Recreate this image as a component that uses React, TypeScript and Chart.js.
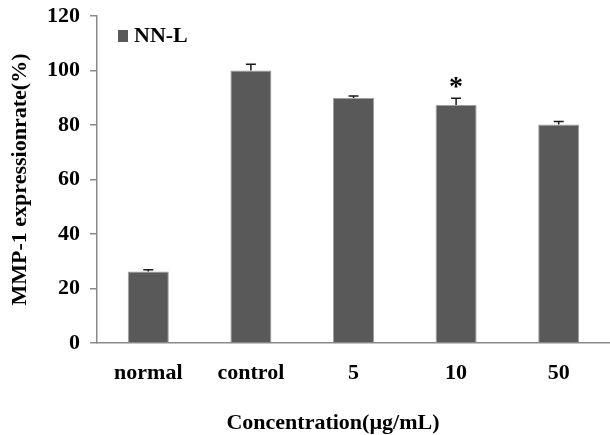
import React, { useEffect, useRef } from "react";
import { Chart, registerables } from "chart.js";

Chart.register(...registerables);

const categories = ["normal", "control", "5", "10", "50"];
const expressionRate = [26.2, 100, 89.9, 87.3, 80.2];
const errorValues = [0.7, 2.3, 0.7, 2.5, 1.1];
const significance = ["", "", "", "*", ""];
const seriesLabel = "NN-L";
const yTicks = [0, 20, 40, 60, 80, 100, 120];
const xTitle = "Concentration(\u00b5g/mL)";
const yTitle = "MMP-1 expressionrate(%)";

const FONT = '"Liberation Serif", "Times New Roman", serif';
const BAR = "#595959";
const AXIS = "#8a8a8a";

const extrasPlugin = {
  id: "barExtras",
  afterDatasetsDraw(chart: any) {
    const { ctx, chartArea, scales } = chart;
    const meta = chart.getDatasetMeta(0);
    const y = scales.y;
    ctx.save();
    // error bars (upper whisker with cap)
    ctx.strokeStyle = "#1a1a1a";
    ctx.lineWidth = 1.5;
    meta.data.forEach((bar: any, i: number) => {
      const v = expressionRate[i];
      const e = errorValues[i];
      const yv = y.getPixelForValue(v);
      const yt = y.getPixelForValue(v + e);
      ctx.beginPath();
      ctx.moveTo(bar.x, yv);
      ctx.lineTo(bar.x, yt);
      ctx.moveTo(bar.x - 5, yt);
      ctx.lineTo(bar.x + 5, yt);
      ctx.stroke();
      if (significance[i]) {
        ctx.fillStyle = "#000";
        ctx.font = `bold 28px ${FONT}`;
        ctx.textAlign = "center";
        ctx.textBaseline = "alphabetic";
        ctx.fillText(significance[i], bar.x, yt - 3);
      }
    });
    // legend inside plot
    const lx = chartArea.left + 21;
    const ly = chartArea.top + 14;
    ctx.fillStyle = BAR;
    ctx.fillRect(lx, ly, 10, 12);
    ctx.fillStyle = "#000";
    ctx.font = `bold 22px ${FONT}`;
    ctx.textAlign = "left";
    ctx.textBaseline = "middle";
    ctx.fillText(seriesLabel, lx + 16, ly + 6);
    // x axis title
    ctx.textAlign = "center";
    ctx.fillText(xTitle, chartArea.left + chartArea.width * 0.46, 423);
    ctx.restore();
  },
};

export default function App() {
  const ref = useRef<HTMLCanvasElement>(null);
  useEffect(() => {
    if (!ref.current) return;
    const chart = new Chart(ref.current, {
      type: "bar",
      data: {
        labels: categories,
        datasets: [
          {
            label: seriesLabel,
            data: expressionRate,
            backgroundColor: BAR,
            borderColor: "#a0a0a0",
            borderWidth: 1,
            categoryPercentage: 1,
            barPercentage: 0.4,
          },
        ],
      },
      options: {
        responsive: false,
        animation: false,
        layout: { padding: { top: 16, right: 0, left: 0, bottom: 0 } },
        plugins: { legend: { display: false }, tooltip: { enabled: false } },
        scales: {
          x: {
            grid: { display: false },
            border: { display: true, color: AXIS, width: 1.5 },
            ticks: {
              color: "#000",
              font: { family: FONT, size: 22, weight: "bold" },
              padding: 9,
              maxRotation: 0,
            },
            afterFit: (s: any) => {
              s.height = 92;
              s.paddingLeft = 0;
              s.paddingRight = 0;
            },
          },
          y: {
            min: 0,
            max: 120,
            afterBuildTicks: (s: any) => {
              s.ticks = yTicks.map((v) => ({ value: v }));
            },
            grid: {
              drawOnChartArea: false,
              drawTicks: true,
              tickLength: 7,
              color: AXIS,
              lineWidth: 1.5,
            },
            border: { display: true, color: AXIS, width: 1.5 },
            ticks: {
              color: "#000",
              font: { family: FONT, size: 22, weight: "bold" },
              padding: 10,
            },
            title: {
              display: true,
              text: yTitle,
              color: "#000",
              font: { family: FONT, size: 22, weight: "bold" },
              padding: { top: 7, bottom: 0 },
            },
            afterFit: (s: any) => {
              s.width = 97;
              s.paddingTop = 0;
              s.paddingBottom = 0;
            },
          },
        },
      },
      plugins: [extrasPlugin],
    });
    return () => chart.destroy();
  }, []);
  return (
    <div style={{ position: "fixed", left: 0, top: 0, width: 610, height: 435, background: "#fff" }}>
      <canvas ref={ref} width={610} height={435} />
    </div>
  );
}
